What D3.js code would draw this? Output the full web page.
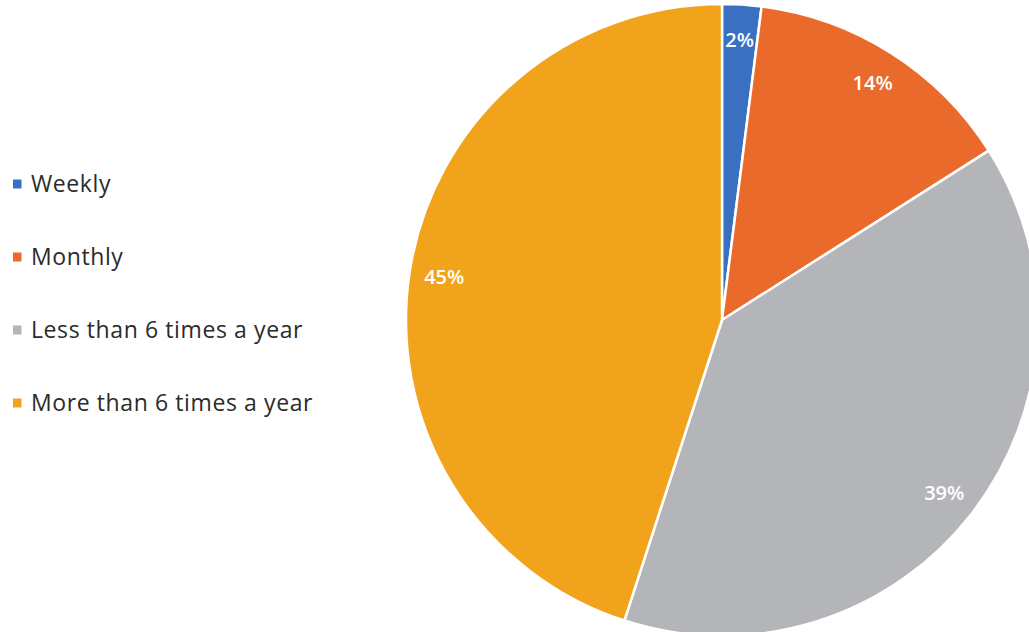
<!DOCTYPE html>
<html>
<head>
<meta charset="utf-8">
<script src="https://cdn.jsdelivr.net/npm/d3@7"></script>
<style>
  html, body { margin: 0; padding: 0; background: #ffffff; }
  svg { display: block; }
</style>
</head>
<body>
<svg id="chart" width="1029" height="632"></svg>
<script>
// Survey frequency breakdown
const categories = ["Weekly", "Monthly", "Less than 6 times a year", "More than 6 times a year"];
const shares = [2, 14, 39, 45];
const colors = ["#3a70c2", "#ea6a2c", "#b3b5b9", "#f2a31c"];

const width = 1029, height = 632;
const cx = 722, cy = 320, radius = 316;

const svg = d3.select("#chart");

const data = categories.map((c, i) => ({ name: c, value: shares[i], color: colors[i] }));

const pie = d3.pie().value(d => d.value).sort(null);
const arc = d3.arc().innerRadius(0).outerRadius(radius);
const labelArc = d3.arc().innerRadius(radius * 0.89).outerRadius(radius * 0.89);

const g = svg.append("g").attr("transform", `translate(${cx},${cy})`);

const arcs = pie(data);

g.selectAll("path.slice")
  .data(arcs)
  .join("path")
  .attr("class", "slice")
  .attr("d", arc)
  .attr("fill", d => d.data.color)
  .attr("stroke", "#ffffff")
  .attr("stroke-width", 2.5)
  .attr("stroke-linejoin", "round");

g.selectAll("text.pct")
  .data(arcs)
  .join("text")
  .attr("class", "pct")
  .attr("transform", d => `translate(${labelArc.centroid(d)})`)
  .attr("text-anchor", "middle")
  .attr("dominant-baseline", "central")
  .attr("font-family", "'Open Sans', sans-serif")
  .attr("font-size", 20)
  .attr("font-weight", 600)
  .attr("fill", "#ffffff")
  .text(d => d.data.value + "%");

// Legend on the left
const legendY = d3.scalePoint()
  .domain(categories)
  .range([184, 403]);

const legend = svg.append("g");
const items = legend.selectAll("g.item")
  .data(data)
  .join("g")
  .attr("class", "item")
  .attr("transform", d => `translate(13,${legendY(d.name)})`);

items.append("rect")
  .attr("x", 0)
  .attr("y", -4.5)
  .attr("width", 8.5)
  .attr("height", 9)
  .attr("fill", d => d.color);

items.append("text")
  .attr("x", 18)
  .attr("y", 0)
  .attr("dy", "0.36em")
  .attr("font-family", "'Open Sans', sans-serif")
  .attr("font-size", 23)
  .attr("letter-spacing", 0.6)
  .attr("fill", "#2b2b2b")
  .text(d => d.name);
</script>
</body>
</html>
